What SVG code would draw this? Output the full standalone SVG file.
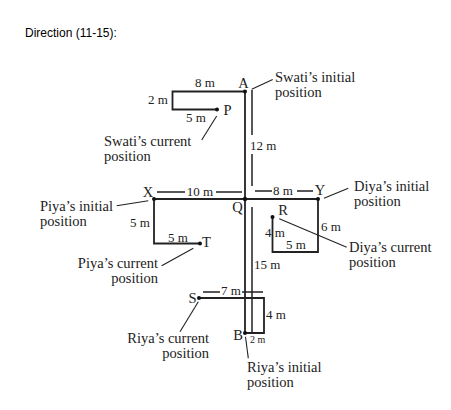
<svg xmlns="http://www.w3.org/2000/svg" width="451" height="410" viewBox="0 0 451 410">
<style>
.t{font-family:"Liberation Serif","Times New Roman",serif;font-size:14.5px;fill:#222}
.m{font-family:"Liberation Serif","Times New Roman",serif;font-size:13px;fill:#222}
.s{font-family:"Liberation Serif","Times New Roman",serif;font-size:10px;fill:#222}
.h{font-family:"Liberation Sans",Arial,sans-serif;font-size:12px;fill:#000}
.p{fill:none;stroke:#222;stroke-width:1.8}
.d{fill:none;stroke:#222;stroke-width:1.5}
.l{fill:none;stroke:#222;stroke-width:1.1}
.dot{fill:#111}
</style>
<rect width="451" height="410" fill="#fff"/>
<text class="h" x="25" y="37">Direction (11-15):</text>

<g id="connectors">
  <path class="p" d="M245,91 V333"/>
  <path class="p" d="M154,199 H318"/>
  <path class="p" d="M245,91.5 H172.5 V109.5 H217"/>
  <path class="p" d="M154,199 V243.5 H200"/>
  <path class="p" d="M318,199 V252 H272.5 V217"/>
  <path class="p" d="M245,333 H264 V298 H199"/>
  <path class="d" d="M252,90 V135 M252,154 V186 M252,207 V333"/>
  <path class="d" d="M157,192 H185 M216,192 H242"/>
  <path class="d" d="M255,191 H272 M297,191 H313"/>
  <path class="d" d="M203,292 H220 M242,292 H263"/>
  <path class="l" d="M251.7,89.3 L272.7,79.5"/>
  <path class="l" d="M216.7,116 L201.7,140"/>
  <path class="l" d="M116.7,205.7 L148.3,200.7"/>
  <path class="l" d="M161.7,265.7 L193.3,248.3"/>
  <path class="l" d="M324,198.3 L348.3,188.3"/>
  <path class="l" d="M279.3,218.7 L346.7,247.3"/>
  <path class="l" d="M198.3,301.7 L180,331.7"/>
  <path class="l" d="M245.5,336.7 L248.3,358.3"/>
  <text class="m" x="205" y="87" text-anchor="middle">8 m</text>
  <text class="m" x="158" y="104" text-anchor="middle">2 m</text>
  <text class="m" x="196" y="122" text-anchor="middle">5 m</text>
  <text class="m" x="250" y="150">12 m</text>
  <text class="m" x="200" y="196" text-anchor="middle">10 m</text>
  <text class="m" x="283" y="195" text-anchor="middle">8 m</text>
  <text class="m" x="140" y="227" text-anchor="middle">5 m</text>
  <text class="m" x="178" y="242" text-anchor="middle">5 m</text>
  <text class="m" x="321" y="231">6 m</text>
  <text class="m" x="265" y="237">4 m</text>
  <text class="m" x="296" y="249" text-anchor="middle">5 m</text>
  <text class="m" x="254" y="269">15 m</text>
  <text class="m" x="231" y="295" text-anchor="middle">7 m</text>
  <text class="m" x="266" y="319">4 m</text>
  <text class="s" x="250" y="343">2 m</text>
</g>

<g id="node-A"><circle class="dot" cx="245" cy="91.5" r="2"/><text class="t" x="243.5" y="88" text-anchor="middle">A</text></g>
<g id="node-P"><circle class="dot" cx="217" cy="109.5" r="2"/><text class="t" x="227.5" y="115" text-anchor="middle">P</text></g>
<g id="node-X"><circle class="dot" cx="154" cy="199" r="2"/><text class="t" x="148" y="197" text-anchor="middle">X</text></g>
<g id="node-Q"><circle class="dot" cx="245" cy="199" r="2.2"/><text class="t" x="237.5" y="212" text-anchor="middle">Q</text></g>
<g id="node-Y"><circle class="dot" cx="318" cy="199" r="2"/><text class="t" x="320" y="195" text-anchor="middle">Y</text></g>
<g id="node-R"><circle class="dot" cx="272.5" cy="217" r="2"/><text class="t" x="283" y="215" text-anchor="middle">R</text></g>
<g id="node-T"><circle class="dot" cx="200" cy="243.5" r="2"/><text class="t" x="206.5" y="247" text-anchor="middle">T</text></g>
<g id="node-S"><circle class="dot" cx="199" cy="298" r="2"/><text class="t" x="192.5" y="303" text-anchor="middle">S</text></g>
<g id="node-B"><circle class="dot" cx="245" cy="333" r="2"/><text class="t" x="238" y="340" text-anchor="middle">B</text></g>

<g id="swati-initial"><text class="t" x="275" y="82">Swati’s initial</text><text class="t" x="275" y="97">position</text></g>
<g id="swati-current"><text class="t" x="104" y="146">Swati’s current</text><text class="t" x="104" y="161">position</text></g>
<g id="piya-initial"><text class="t" x="40" y="211">Piya’s initial</text><text class="t" x="40" y="226">position</text></g>
<g id="piya-current"><text class="t" x="158" y="268" text-anchor="end">Piya’s current</text><text class="t" x="158" y="283" text-anchor="end">position</text></g>
<g id="diya-initial"><text class="t" x="354" y="191">Diya’s initial</text><text class="t" x="354" y="206">position</text></g>
<g id="diya-current"><text class="t" x="349" y="252">Diya’s current</text><text class="t" x="349" y="267">position</text></g>
<g id="riya-current"><text class="t" x="209" y="343" text-anchor="end">Riya’s current</text><text class="t" x="209" y="358" text-anchor="end">position</text></g>
<g id="riya-initial"><text class="t" x="247" y="372">Riya’s initial</text><text class="t" x="247" y="387">position</text></g>
</svg>
